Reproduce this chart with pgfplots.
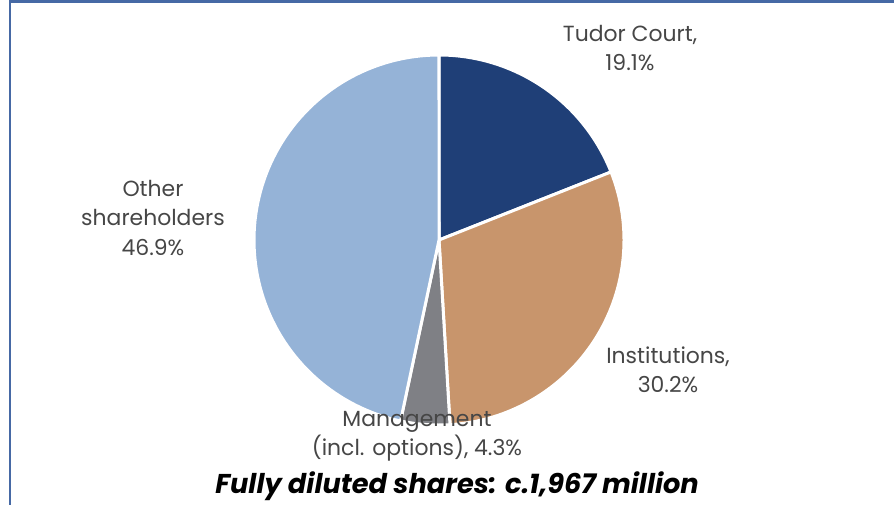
\documentclass[border=0pt]{standalone}
\usepackage{fontspec}
\setmainfont{Poppins}
\usepackage{pgfplots}
\pgfplotsset{compat=1.18}
\definecolor{tudor}{RGB}{31,63,119}
\definecolor{inst}{RGB}{200,149,108}
\definecolor{mgmt}{RGB}{127,128,133}
\definecolor{other}{RGB}{149,179,215}
\definecolor{lbl}{RGB}{70,70,70}
\definecolor{framec}{RGB}{70,105,165}

% share values (%), clockwise from 12 o'clock
\def\vTudor{19.1}
\def\vInst{30.2}
\def\vMgmt{4.3}
\def\vOther{46.9}

\newcommand\slicecoords[3]{%
  \xdef#3{(439,265)}%
  \foreach \k in {0,...,90}{%
    \pgfmathsetmacro\aa{#1+(#2-#1)*\k/90}%
    \pgfmathsetmacro\px{439+185*cos(\aa)}%
    \pgfmathsetmacro\py{265+185*sin(\aa)}%
    \xdef#3{#3 (\px,\py)}%
  }%
}
\newcommand\slice[2]{%
  \edef\tmp{\noexpand\addplot[fill=#1, draw=white, line width=3pt, line join=round] coordinates {#2} -- cycle;}\tmp}

\begin{document}
\begin{tikzpicture}
\pgfmathsetmacro\tot{\vTudor+\vInst+\vMgmt+\vOther}
\pgfmathsetmacro\aA{90}
\pgfmathsetmacro\aB{\aA-(\vTudor/\tot)*360}
\pgfmathsetmacro\aC{\aB-(\vInst/\tot)*360}
\pgfmathsetmacro\aD{\aC-(\vMgmt/\tot)*360}
\pgfmathsetmacro\aE{\aD-(\vOther/\tot)*360}
\slicecoords{\aA}{\aB}{\cTudor}
\slicecoords{\aB}{\aC}{\cInst}
\slicecoords{\aC}{\aD}{\cMgmt}
\slicecoords{\aD}{\aE}{\cOther}
\begin{axis}[
  scale only axis, width=894bp, height=505bp,
  xmin=0, xmax=894, ymin=0, ymax=505,
  hide axis, clip=false,
]
\slice{tudor}{\cTudor}
\slice{inst}{\cInst}
\slice{mgmt}{\cMgmt}
\slice{other}{\cOther}
\draw[framec, line width=2.5bp] (9,503.6) -- (894,503.6);
\draw[framec, line width=2bp] (10,505) -- (10,0);
\node[align=center, text=lbl, font=\fontsize{22}{29.5}\selectfont] at (630,457) {Tudor Court,\\19.1\%};
\node[align=center, text=lbl, font=\fontsize{22}{29.5}\selectfont] at (153,287) {Other\\shareholders\\46.9\%};
\node[align=center, text=lbl, font=\fontsize{22}{29.5}\selectfont] at (668,135) {Institutions,\\30.2\%};
\node[align=center, text=lbl, font=\fontsize{22}{29.5}\selectfont] at (417,69) {Management\\(incl. options), 4.3\%};
\node[text=black, font=\fontsize{27.3}{30}\selectfont\bfseries\itshape] at (457,19) {Fully diluted shares: c.1,967 million};
\end{axis}
\pgfresetboundingbox
\path (0,0) rectangle (894bp,505bp);
\end{tikzpicture}
\end{document}
